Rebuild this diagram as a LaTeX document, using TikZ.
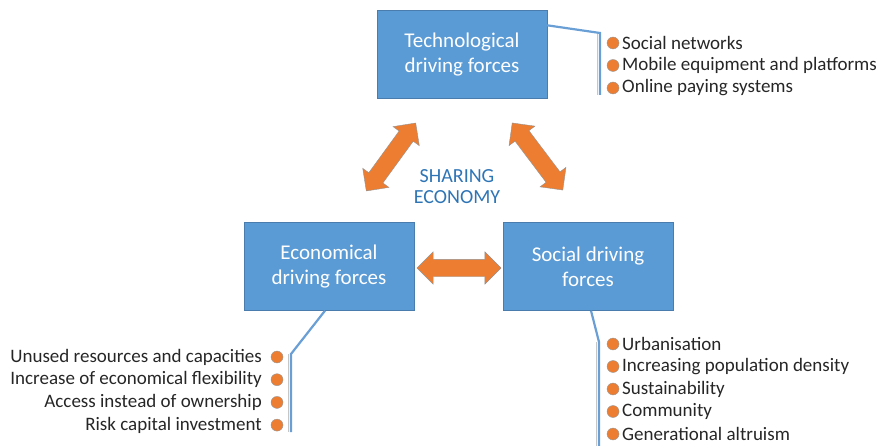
\documentclass[tikz,border=0pt]{standalone}
\usepackage{fontspec}
\setmainfont{Carlito}
\usetikzlibrary{shapes.arrows}

\definecolor{boxblue}{HTML}{5B9BD5}
\definecolor{boxedge}{HTML}{4A7DAD}
\definecolor{arrorange}{HTML}{ED7D31}
\definecolor{titleblue}{HTML}{2E75B6}
\definecolor{wireblue}{HTML}{6A9FD6}

\begin{document}
\begin{tikzpicture}[x=1pt, y=-1pt,
    force/.style={draw=boxedge, fill=boxblue, text=white, align=center, inner sep=0pt,
        minimum width=170pt, minimum height=88pt, font=\fontsize{21}{25}\selectfont},
    link/.style={double arrow, draw=gray!85, fill=arrorange, inner xsep=0pt, inner ysep=8.5pt,
        double arrow head extend=7.5pt, minimum height=84pt},
    dot/.style={circle, draw=gray!80, fill=arrorange, inner sep=0pt, minimum size=12pt},
    item/.style={inner sep=0pt, font=\fontsize{19}{22}\selectfont, text=black!85},
    wire/.style={draw=wireblue, line width=2.2pt},
    shade/.style={draw=gray!45, line width=1pt}]
    \useasboundingbox (0,0) rectangle (880,446);

    % the three groups of driving forces
    \node[force] (tech) at (462,54.5) {Technological\\driving forces};
    \node[force] (econ) at (329,266.5) {Economical\\driving forces};
    \node[force] (soc) at (588,266.5) {Social driving\\forces};

    \node[text=titleblue, align=center, font=\fontsize{20}{21}\selectfont] (share) at (457,187) {SHARING\\ECONOMY};

    % links between the groups
    \node[link, rotate=54] (l1) at (391,157) {};
    \node[link, rotate=-53] (l2) at (537.5,156.5) {};
    \node[link] (l3) at (459,268) {};

    % brackets to the lists
    \coordinate (tb) at (600,33);
    \coordinate (te) at (600,95);
    \draw[shade] ([xshift=-2.5pt]tb) -- ([xshift=-2.5pt]te);
    \draw[wire] ([yshift=-15pt]tech.north east) -- (tb) -- (te);

    \coordinate (eb) at (291,354);
    \coordinate (ee) at (291,432);
    \draw[shade] ([xshift=-3pt]eb) -- ([xshift=-3pt]ee);
    \draw[wire] ([xshift=-4pt]econ.south) -- (eb) -- (ee);

    \coordinate (sb) at (599,342);
    \coordinate (se) at (599,446);
    \draw[shade] ([xshift=-3pt]sb) -- ([xshift=-3pt]se);
    \draw[wire] ([xshift=3pt]soc.south) -- (sb) -- (se);

    % lists
    \foreach \t [count=\i] in {Social networks, Mobile equipment and platforms, Online paying systems} {
        \node[dot] (td\i) at (613,20.5+22.5*\i) {};
        \node[item, anchor=west] (tt\i) at (622,20.5+22.5*\i) {\t};
    }
    \foreach \t [count=\i] in {Unused resources and capacities, Increase of economical flexibility,
        Access instead of ownership, Risk capital investment} {
        \node[dot] (ed\i) at (277,334.3+22.7*\i) {};
        \node[item, anchor=east] (et\i) at (262,334.3+22.7*\i) {\t};
    }
    \foreach \t [count=\i] in {Urbanisation, Increasing population density, Sustainability,
        Community, Generational altruism} {
        \node[dot] (sd\i) at (613,321.5+22.5*\i) {};
        \node[item, anchor=west] (st\i) at (622,321.5+22.5*\i) {\t};
    }
\end{tikzpicture}
\end{document}
